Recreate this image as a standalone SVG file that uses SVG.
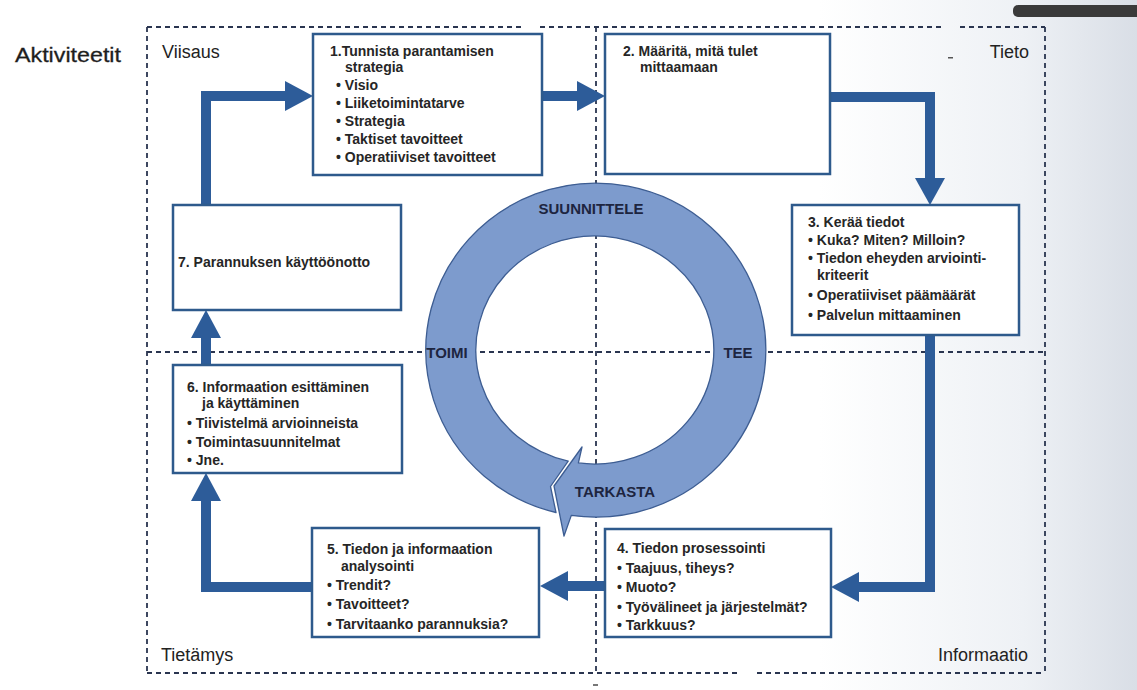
<svg xmlns="http://www.w3.org/2000/svg" width="1137" height="690" viewBox="0 0 1137 690">
<defs>
<linearGradient id="bg" x1="0" y1="0" x2="1" y2="0">
<stop offset="0" stop-color="#ffffff"/>
<stop offset="0.72" stop-color="#ffffff"/>
<stop offset="0.9" stop-color="#eef1f5"/>
<stop offset="1" stop-color="#d9dee6"/>
</linearGradient>
<style>
.dash{fill:none;stroke:#2a3550;stroke-width:1.8;stroke-dasharray:5 4}
.box{fill:#ffffff;stroke:#2e5a8c;stroke-width:2.5}
.t{font-family:"Liberation Sans",Arial,sans-serif;font-size:14px;font-weight:bold;fill:#262626}
.lbl{font-family:"Liberation Sans",Arial,sans-serif;font-size:18px;fill:#222222}
.big{font-family:"Liberation Sans",Arial,sans-serif;font-size:21px;fill:#1e1e1e;stroke:#1e1e1e;stroke-width:0.3}
.ring{font-family:"Liberation Sans",Arial,sans-serif;font-size:15px;font-weight:bold;fill:#1d2540;text-anchor:middle}
.shaft{fill:none;stroke:#2d5c99;stroke-width:10;stroke-linejoin:miter}
.head{fill:#2d5c99}
</style>
</defs>
<rect x="0" y="0" width="1137" height="690" fill="url(#bg)"/>
<rect x="1013" y="5" width="130" height="12" rx="5" fill="#3a3a3a"/>

<g id="frame">
<path class="dash" d="M147,27 H523 M540,27 H945 M960,27 H1045 M147,673 H737 M757,673 H1045 M147,27 V673 M1045,27 V673"/>
<path class="dash" d="M596,27 V673 M147,352 H1045"/>
<rect x="948" y="57" width="5" height="1.5" fill="#555"/>
<rect x="593" y="684" width="5" height="2" fill="#777"/>
</g>

<g id="labels">
<text class="big" x="15" y="62" textLength="106" lengthAdjust="spacingAndGlyphs">Aktiviteetit</text>
<text class="lbl" x="162" y="58">Viisaus</text>
<text class="lbl" x="1029" y="58" text-anchor="end">Tieto</text>
<text class="lbl" x="161" y="661">Tietämys</text>
<text class="lbl" x="1028" y="661" text-anchor="end">Informaatio</text>
</g>

<g id="cycle">
<path d="M568.2,461.1 A119 114 0 1 1 578.4,462.9 L582,447 L554,486 L564,536 L571.3,515.4 A170 167 0 1 0 556,512.5 L550.5,486.5 Z" fill="#7d9bcd" stroke="#3d5d92" stroke-width="1.3" stroke-linejoin="round"/>
<text class="ring" x="591" y="214">SUUNNITTELE</text>
<text class="ring" x="738" y="358">TEE</text>
<text class="ring" x="615" y="497">TARKASTA</text>
<text class="ring" x="447" y="358">TOIMI</text>
</g>

<g id="connectors">
<path class="shaft" d="M206,205 V96 H287"/>
<polygon class="head" points="285,81 313,96 285,111"/>
<path class="shaft" d="M542,96 H579"/>
<polygon class="head" points="577,81 605,96 577,111"/>
<path class="shaft" d="M830,97 H930 V180"/>
<polygon class="head" points="915,178 930,205 945,178"/>
<path class="shaft" d="M930,335 V587 H857"/>
<polygon class="head" points="859,572 831,587 859,602"/>
<path class="shaft" d="M605,586 H566"/>
<polygon class="head" points="568,571 540,586 568,601"/>
<path class="shaft" d="M312,587 H206 V499"/>
<polygon class="head" points="191,501 206,473 221,501"/>
<path class="shaft" d="M206,365 V336"/>
<polygon class="head" points="191,338 206,310 221,338"/>
</g>

<g id="box1">
<rect class="box" x="313" y="34" width="229" height="141"/>
<text class="t" x="330" y="56">1.Tunnista parantamisen</text>
<text class="t" x="345" y="72">strategia</text>
<text class="t" x="336" y="90">• Visio</text>
<text class="t" x="336" y="108">• Liiketoimintatarve</text>
<text class="t" x="336" y="126">• Strategia</text>
<text class="t" x="336" y="144">• Taktiset tavoitteet</text>
<text class="t" x="336" y="162">• Operatiiviset tavoitteet</text>
</g>

<g id="box2">
<rect class="box" x="605" y="34" width="225" height="140"/>
<text class="t" x="623" y="56">2. Määritä, mitä tulet</text>
<text class="t" x="640" y="72">mittaamaan</text>
</g>

<g id="box3">
<rect class="box" x="792" y="205" width="227" height="130"/>
<text class="t" x="808" y="227">3. Kerää tiedot</text>
<text class="t" x="808" y="245">• Kuka? Miten? Milloin?</text>
<text class="t" x="808" y="263">• Tiedon eheyden arviointi-</text>
<text class="t" x="817" y="280">kriteerit</text>
<text class="t" x="808" y="300">• Operatiiviset päämäärät</text>
<text class="t" x="808" y="320">• Palvelun mittaaminen</text>
</g>

<g id="box4">
<rect class="box" x="605" y="529" width="226" height="108"/>
<text class="t" x="617" y="553">4. Tiedon prosessointi</text>
<text class="t" x="617" y="573">• Taajuus, tiheys?</text>
<text class="t" x="617" y="592">• Muoto?</text>
<text class="t" x="617" y="612">• Työvälineet ja järjestelmät?</text>
<text class="t" x="617" y="630">• Tarkkuus?</text>
</g>

<g id="box5">
<rect class="box" x="312" y="528" width="227" height="109"/>
<text class="t" x="327" y="554">5. Tiedon ja informaation</text>
<text class="t" x="341" y="571">analysointi</text>
<text class="t" x="327" y="590">• Trendit?</text>
<text class="t" x="327" y="609">• Tavoitteet?</text>
<text class="t" x="327" y="629">• Tarvitaanko parannuksia?</text>
</g>

<g id="box6">
<rect class="box" x="173" y="365" width="229" height="108"/>
<text class="t" x="187" y="392">6. Informaation esittäminen</text>
<text class="t" x="202" y="408">ja käyttäminen</text>
<text class="t" x="187" y="428">• Tiivistelmä arvioinneista</text>
<text class="t" x="187" y="447">• Toimintasuunnitelmat</text>
<text class="t" x="187" y="465">• Jne.</text>
</g>

<g id="box7">
<rect class="box" x="173" y="205" width="228" height="105"/>
<text class="t" x="178" y="267">7. Parannuksen käyttöönotto</text>
</g>
</svg>
